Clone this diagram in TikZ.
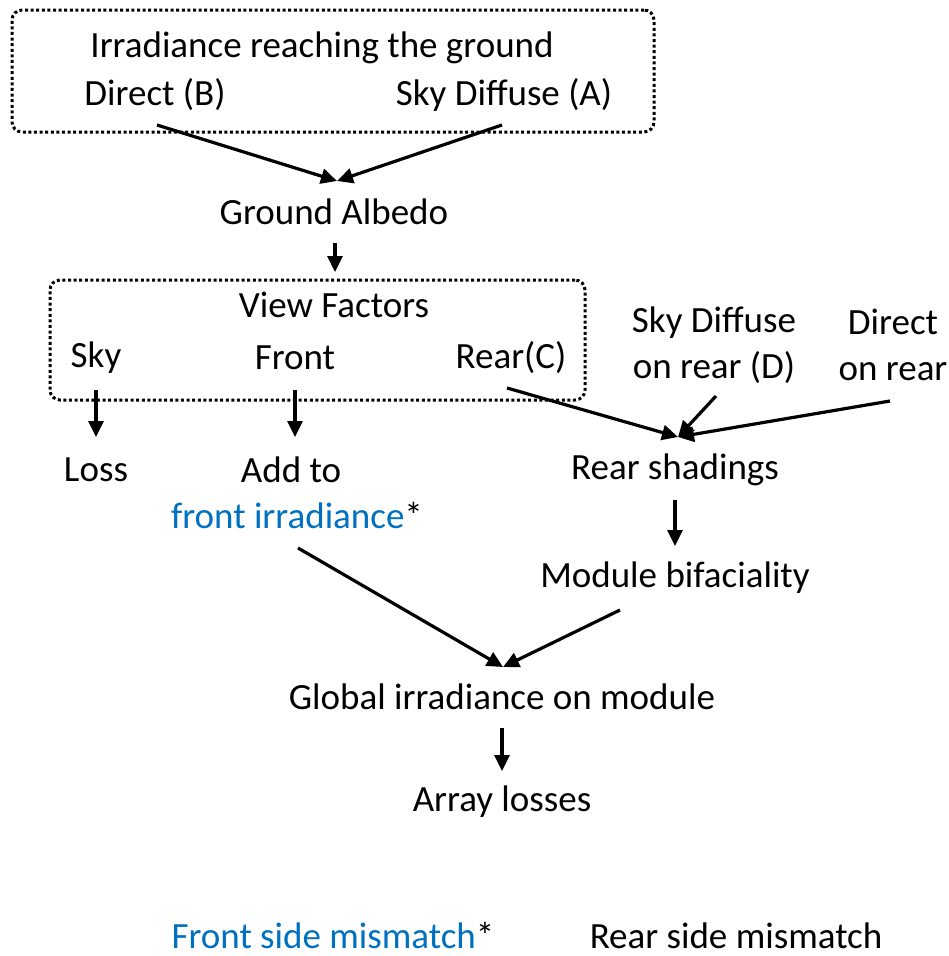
\documentclass[tikz,border=0pt]{standalone}
\usepackage{fontspec}
\setmainfont{Carlito}
\usetikzlibrary{arrows.meta}
\definecolor{offblue}{RGB}{0,112,192}
\begin{document}
\begin{tikzpicture}[x=1pt,y=-1pt,
  lbl/.style={inner sep=0pt,font=\fontsize{37}{46}\selectfont},
  arr/.style={line width=3.2pt,-{Triangle[length=16pt,width=15pt]}},
  grp/.style={draw,line width=3pt,dash pattern=on 3pt off 2.6pt,rounded corners=10pt}]
\useasboundingbox (0,0) rectangle (949,956);
% boxes
\node[grp,minimum width=642pt,minimum height=122pt] (box1) at (333,71) {};
\node[grp,minimum width=535pt,minimum height=120pt] (box2) at (317.5,340) {};
% texts
\node[lbl] (irr) at (322,48) {Irradiance reaching the ground};
\node[lbl] (dirB) at (155,95) {Direct (B)};
\node[lbl] (skyA) at (504,95) {Sky Diffuse (A)};
\node[lbl] (alb) at (334,212) {Ground Albedo};
\node[lbl] (vf) at (334,305) {View Factors};
\node[lbl] (sky) at (96,358) {Sky};
\node[lbl] (front) at (295,358) {Front};
\node[lbl] (rearC) at (511,358) {Rear(C)};
\node[lbl,align=center] (skyD) at (714,345) {Sky Diffuse\\on rear (D)};
\node[lbl,align=center] (dirR) at (893,345) {Direct\\on rear};
\node[lbl] (loss) at (96,470) {Loss};
\node[lbl] (add) at (291,470) {Add to};
\node[lbl] (fir) at (297,515) {\textcolor{offblue}{front irradiance}*};
\node[lbl] (rsh) at (675,470) {Rear shadings};
\node[lbl] (bif) at (675,578) {Module bifaciality};
\node[lbl] (glob) at (502,697) {Global irradiance on module};
\node[lbl] (arrl) at (502,802) {Array losses};
\node[lbl,anchor=base] (fsm) at (333,948) {\textcolor{offblue}{Front side mismatch}*};
\node[lbl,anchor=base] (rsm) at (736,948) {Rear side mismatch};
% connector end points
\coordinate (c1) at (157,125);
\coordinate (c2) at (502,125);
\coordinate (albT) at (337,181);
\coordinate (albB) at (335,243);
\coordinate (box2T) at (335,272);
\coordinate (skyS) at (96,390);
\coordinate (lossT) at (96,437);
\coordinate (frS) at (295,390);
\coordinate (addT) at (295,437);
\coordinate (rcS) at (507,388);
\coordinate (dS) at (716,396);
\coordinate (drS) at (890,401);
\coordinate (rshT) at (678,437);
\coordinate (rshB) at (675,500);
\coordinate (bifT) at (675,546);
\coordinate (firB) at (298,548);
\coordinate (bifB) at (620,610);
\coordinate (globT) at (503,667);
\coordinate (globB) at (502,728);
\coordinate (arrT) at (502,771);
% connectors
\draw[arr] (c1) -- (albT);
\draw[arr] (c2) -- (albT);
\draw[arr] (albB) -- (box2T);
\draw[arr] (skyS) -- (lossT);
\draw[arr] (frS) -- (addT);
\draw[arr] (rcS) -- (rshT);
\draw[arr] (dS) -- (rshT);
\draw[arr] (drS) -- (rshT);
\draw[arr] (rshB) -- (bifT);
\draw[arr] (firB) -- (globT);
\draw[arr] (bifB) -- (globT);
\draw[arr] (globB) -- (arrT);
\end{tikzpicture}
\end{document}
